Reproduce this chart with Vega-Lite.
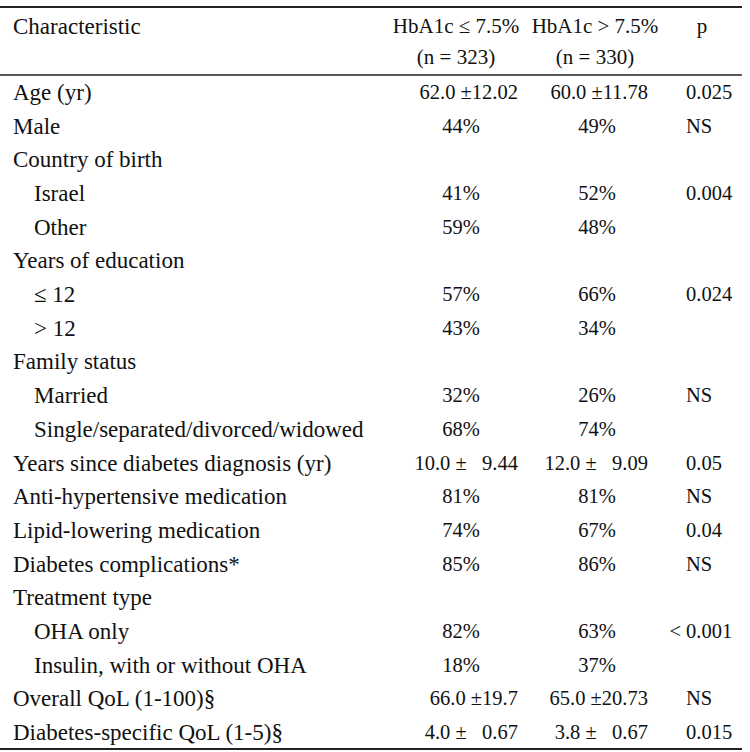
{
  "$schema": "https://vega.github.io/schema/vega-lite/v6.json",
  "width": 742,
  "height": 752,
  "autosize": "none",
  "padding": {"left": 0, "top": 0, "right": 8, "bottom": 0},
  "background": "white",
  "config": {"view": {"stroke": null}, "scale": {"pointPadding": 0}, "text": {"font": "Liberation Serif", "color": "#111111", "baseline": "middle"}},
  "datasets": {
    "rules": [{"rule": "top"}, {"rule": "bottom"}],
    "header": [
      {"col": "g1", "line": 1, "text": "HbA1c ≤ 7.5%"},
      {"col": "g1", "line": 2, "text": "(n = 323)"},
      {"col": "g2", "line": 1, "text": "HbA1c > 7.5%"},
      {"col": "g2", "line": 2, "text": "(n = 330)"},
      {"col": "p", "line": 1, "text": "p"}
    ],
    "body": [
      {"row": 0, "label": "Age (yr)", "level": 0, "type": "mean", "g1": "62.0 ±12.02", "g2": "60.0 ±11.78", "p": "0.025"},
      {"row": 1, "label": "Male", "level": 0, "type": "pct", "g1": "44%", "g2": "49%", "p": "NS"},
      {"row": 2, "label": "Country of birth", "level": 0},
      {"row": 3, "label": "Israel", "level": 1, "type": "pct", "g1": "41%", "g2": "52%", "p": "0.004"},
      {"row": 4, "label": "Other", "level": 1, "type": "pct", "g1": "59%", "g2": "48%"},
      {"row": 5, "label": "Years of education", "level": 0},
      {"row": 6, "label": "≤ 12", "level": 1, "type": "pct", "g1": "57%", "g2": "66%", "p": "0.024"},
      {"row": 7, "label": "> 12", "level": 1, "type": "pct", "g1": "43%", "g2": "34%"},
      {"row": 8, "label": "Family status", "level": 0},
      {"row": 9, "label": "Married", "level": 1, "type": "pct", "g1": "32%", "g2": "26%", "p": "NS"},
      {"row": 10, "label": "Single/separated/divorced/widowed", "level": 1, "type": "pct", "g1": "68%", "g2": "74%"},
      {"row": 11, "label": "Years since diabetes diagnosis (yr)", "level": 0, "type": "mean", "g1": "10.0 ± \u20079.44", "g2": "12.0 ± \u20079.09", "p": "0.05"},
      {"row": 12, "label": "Anti-hypertensive medication", "level": 0, "type": "pct", "g1": "81%", "g2": "81%", "p": "NS"},
      {"row": 13, "label": "Lipid-lowering medication", "level": 0, "type": "pct", "g1": "74%", "g2": "67%", "p": "0.04"},
      {"row": 14, "label": "Diabetes complications*", "level": 0, "type": "pct", "g1": "85%", "g2": "86%", "p": "NS"},
      {"row": 15, "label": "Treatment type", "level": 0},
      {"row": 16, "label": "OHA only", "level": 1, "type": "pct", "g1": "82%", "g2": "63%", "p": "0.001", "psign": "<"},
      {"row": 17, "label": "Insulin, with or without OHA", "level": 1, "type": "pct", "g1": "18%", "g2": "37%"},
      {"row": 18, "label": "Overall QoL (1-100)§", "level": 0, "type": "mean", "g1": "66.0 ±19.7\u2007\u2007", "g2": "65.0 ±20.73", "p": "NS"},
      {"row": 19, "label": "Diabetes-specific QoL (1-5)§", "level": 0, "type": "mean", "g1": "4.0 ± \u20070.67", "g2": "3.8 ± \u20070.67", "p": "0.015"}
    ]
  },
  "layer": [
    {
      "data": {"name": "rules"},
      "mark": {"type": "rule", "color": "#222222", "strokeWidth": 2},
      "encoding": {
        "y": {"field": "rule", "type": "nominal", "axis": null, "scale": {"type": "point", "padding": 0, "domain": ["top", "bottom"], "range": [7, 749]}}
      }
    },
    {
      "data": {"values": [{"rule": "header"}]},
      "mark": {"type": "rule", "color": "#222222", "strokeWidth": 1.6},
      "encoding": {
        "y": {"field": "rule", "type": "nominal", "axis": null, "scale": {"type": "point", "padding": 0, "domain": ["header"], "range": [75, 75]}}
      }
    },
    {
      "data": {"values": [{"text": "Characteristic", "line": 1, "level": 0}]},
      "mark": {"type": "text", "align": "left", "fontSize": 23},
      "encoding": {
        "x": {"field": "level", "type": "ordinal", "axis": null, "scale": {"type": "point", "padding": 0, "domain": [0], "range": [13, 13]}},
        "y": {"field": "line", "type": "ordinal", "axis": null, "scale": {"type": "point", "padding": 0, "domain": [1, 2], "range": [27, 58]}},
        "text": {"field": "text"}
      }
    },
    {
      "data": {"name": "header"},
      "transform": [{"filter": "datum.col !== 'p'"}],
      "mark": {"type": "text", "align": "center", "fontSize": 21},
      "encoding": {
        "x": {"field": "col", "type": "nominal", "axis": null, "scale": {"type": "point", "padding": 0, "domain": ["g1", "g2"], "range": [456, 595]}},
        "y": {"field": "line", "type": "ordinal", "axis": null, "scale": {"type": "point", "padding": 0, "domain": [1, 2], "range": [27, 58]}},
        "text": {"field": "text"}
      }
    },
    {
      "data": {"name": "header"},
      "transform": [{"filter": "datum.col === 'p'"}],
      "mark": {"type": "text", "align": "center", "fontSize": 21},
      "encoding": {
        "x": {"field": "col", "type": "nominal", "axis": null, "scale": {"type": "point", "padding": 0, "domain": ["p"], "range": [702, 702]}},
        "y": {"field": "line", "type": "ordinal", "axis": null, "scale": {"type": "point", "padding": 0, "domain": [1, 2], "range": [27, 58]}},
        "text": {"field": "text"}
      }
    },
    {
      "data": {"name": "body"},
      "mark": {"type": "text", "align": "left", "fontSize": 23},
      "encoding": {
        "x": {"field": "level", "type": "ordinal", "axis": null, "scale": {"type": "point", "padding": 0, "domain": [0, 1], "range": [13, 34]}},
        "y": {"field": "row", "type": "quantitative", "axis": null, "scale": {"domain": [0, 19], "range": [93, 733]}},
        "text": {"field": "label"}
      }
    },
    {
      "data": {"name": "body"},
      "transform": [
        {"filter": "datum.type === 'pct'"},
        {"fold": ["g1", "g2"], "as": ["group", "value"]}
      ],
      "mark": {"type": "text", "align": "center", "fontSize": 20.5},
      "encoding": {
        "x": {"field": "group", "type": "nominal", "axis": null, "scale": {"type": "point", "padding": 0, "domain": ["g1", "g2"], "range": [461, 597]}},
        "y": {"field": "row", "type": "quantitative", "axis": null, "scale": {"domain": [0, 19], "range": [93, 733]}},
        "text": {"field": "value"}
      }
    },
    {
      "data": {"name": "body"},
      "transform": [
        {"filter": "datum.type === 'mean'"},
        {"fold": ["g1", "g2"], "as": ["group", "value"]}
      ],
      "mark": {"type": "text", "align": "right", "fontSize": 20.5},
      "encoding": {
        "x": {"field": "group", "type": "nominal", "axis": null, "scale": {"type": "point", "padding": 0, "domain": ["g1", "g2"], "range": [518, 648]}},
        "y": {"field": "row", "type": "quantitative", "axis": null, "scale": {"domain": [0, 19], "range": [93, 733]}},
        "text": {"field": "value"}
      }
    },
    {
      "data": {"name": "body"},
      "transform": [
        {"filter": "isValid(datum.p)"},
        {"fold": ["p"], "as": ["col", "value"]}
      ],
      "mark": {"type": "text", "align": "left", "fontSize": 20.5},
      "encoding": {
        "x": {"field": "col", "type": "nominal", "axis": null, "scale": {"type": "point", "padding": 0, "domain": ["p"], "range": [686, 686]}},
        "y": {"field": "row", "type": "quantitative", "axis": null, "scale": {"domain": [0, 19], "range": [93, 733]}},
        "text": {"field": "value"}
      }
    },
    {
      "data": {"name": "body"},
      "transform": [
        {"filter": "isValid(datum.psign)"},
        {"fold": ["psign"], "as": ["col", "value"]}
      ],
      "mark": {"type": "text", "align": "right", "fontSize": 20.5},
      "encoding": {
        "x": {"field": "col", "type": "nominal", "axis": null, "scale": {"type": "point", "padding": 0, "domain": ["psign"], "range": [681, 681]}},
        "y": {"field": "row", "type": "quantitative", "axis": null, "scale": {"domain": [0, 19], "range": [93, 733]}},
        "text": {"field": "value"}
      }
    }
  ],
  "resolve": {"scale": {"x": "independent", "y": "independent"}}
}
